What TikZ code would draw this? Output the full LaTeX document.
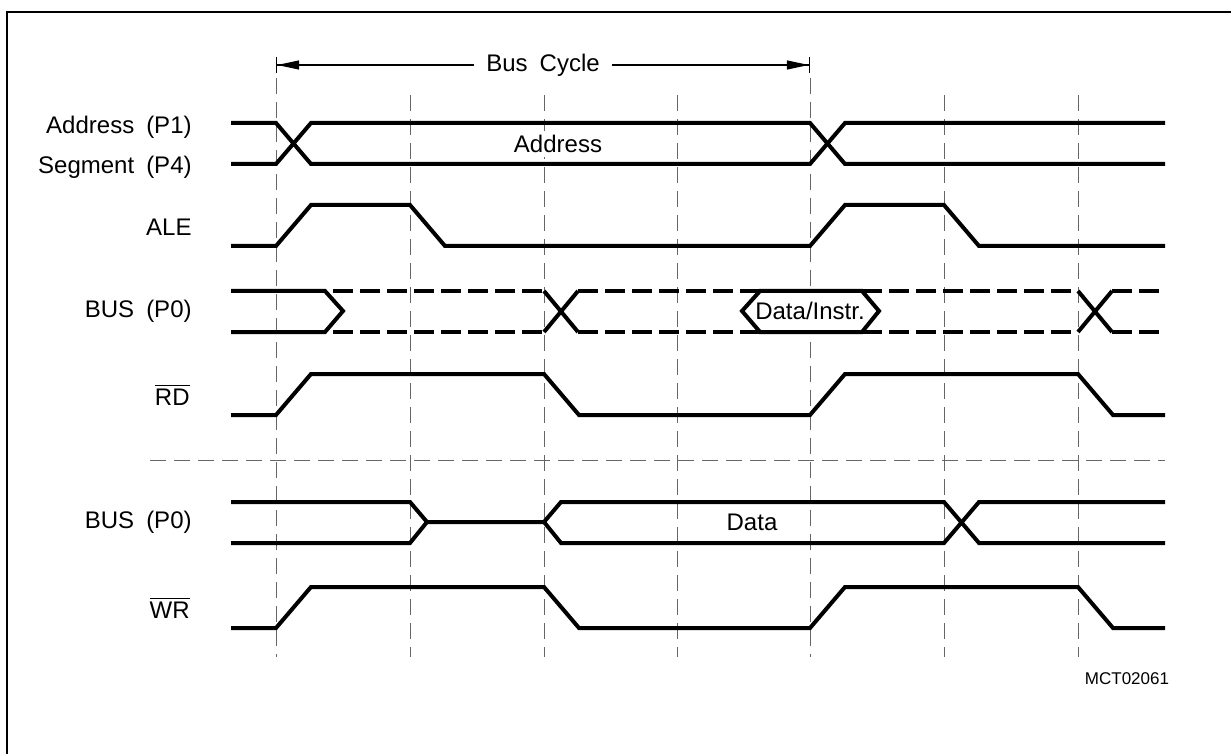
\documentclass[tikz,border=0pt]{standalone}
\usepackage{amsmath}
\usepackage{fontspec}
\setmainfont{Liberation Sans}
\usetikzlibrary{arrows.meta}

\begin{document}
\begin{tikzpicture}[x=0.5pt, y=-0.5pt, font=\fontsize{12}{14}\selectfont,
    >={Triangle[length=11pt, width=4.5pt]},
    sig/.style={line width=2pt},
    float/.style={line width=2pt, dash pattern=on 10pt off 3.5pt},
    guide/.style={black!60, line width=0.5pt, dash pattern=on 8pt off 4pt},
    lbl/.style={anchor=east, inner sep=0pt}]
    \useasboundingbox (0,0) rectangle (1231,754);
    \draw[line width=1.2pt] (7,754) -- (7,12) -- (1231,12);
    % phase guides
    \foreach \x in {410,544,677,944,1078} \draw[guide] (\x,95) -- (\x,657);
    \foreach \x in {276,810} \draw[guide] (\x,78) -- (\x,657);
    \draw[guide] (150,460) -- (1165,460);
    % bus cycle
    \coordinate (cyc0) at (276,65); \coordinate (cyc1) at (810,65);
    \draw[{Bar[width=8pt]<}-{>Bar[width=8pt]}, line width=0.6pt] (cyc0) -- (cyc1)
      node[midway, fill=white, inner xsep=6pt] (cyc) {Bus\enspace Cycle};
    % address / segment
    \draw[sig] (231,123) -- (276,123) -- (311,164) -- (810,164) -- (845,123) -- (1165,123);
    \draw[sig] (231,164) -- (276,164) -- (311,123) -- (810,123) -- (845,164) -- (1165,164);
    \node[fill=white, inner sep=2pt] (adr) at (558,144) {Address};
    % ALE
    \draw[sig] (231,246) -- (276,246) -- (311,205) -- (410,205) -- (445,246) -- (810,246)
      -- (845,205) -- (944,205) -- (979,246) -- (1165,246);
    % BUS (P0), read
    \draw[sig] (231,291) -- (325,291) -- (343,311) -- (325,332) -- (231,332);
    \foreach \y in {291,332} {
      \draw[float] (333,\y) -- (544,\y);
      \draw[float] (578,\y) -- (760,\y);
      \draw[float] (862,\y) -- (1078,\y);
      \draw[float] (1112,\y) -- (1165,\y);
    }
    \draw[sig] (544,291) -- (578,332) (544,332) -- (578,291);
    \draw[sig] (1078,291) -- (1112,332) (1078,332) -- (1112,291);
    \draw[sig, fill=white] (742,311) -- (760,291) -- (862,291) -- (879,311) -- (862,332) -- (760,332) -- cycle;
    \node[inner sep=0pt] (instr) at (810,311) {Data/Instr.};
    % RD
    \draw[sig] (231,415) -- (276,415) -- (311,374) -- (544,374) -- (579,415) -- (810,415)
      -- (845,374) -- (1078,374) -- (1113,415) -- (1165,415);
    % BUS (P0), write
    \draw[sig] (231,502) -- (410,502) -- (427,522) -- (544,522) -- (561,502) -- (944,502)
      -- (979,543) -- (1165,543);
    \draw[sig] (231,543) -- (410,543) -- (427,522);
    \draw[sig] (544,522) -- (561,543) -- (944,543) -- (979,502) -- (1165,502);
    \node (dat) at (752,522) {Data};
    % WR
    \draw[sig] (231,628) -- (276,628) -- (311,587) -- (544,587) -- (579,628) -- (810,628)
      -- (845,587) -- (1078,587) -- (1113,628) -- (1165,628);
    % signal names
    \node[lbl] (nadr) at (192,127) {Address\enspace(P1)};
    \node[lbl] (nseg) at (192,167) {Segment\enspace(P4)};
    \node[lbl] (nale) at (192,227) {ALE};
    \node[lbl] (nbus) at (192,311) {BUS\enspace(P0)};
    \node[lbl] (nrd) at (190,395) {$\overline{\text{RD}}$};
    \node[lbl] (nbusw) at (192,522) {BUS\enspace(P0)};
    \node[lbl] (nwr) at (190,608) {$\overline{\text{WR}}$};
    \node[font=\fontsize{8.5}{10}\selectfont] (ref) at (1127,679) {MCT02061};
\end{tikzpicture}
\end{document}
